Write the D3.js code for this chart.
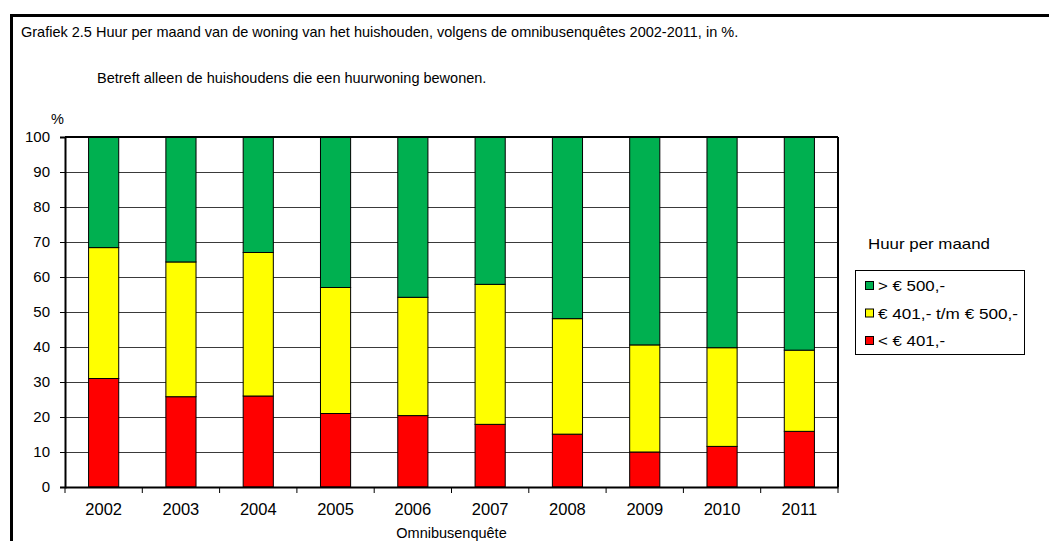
<!DOCTYPE html>
<html>
<head>
<meta charset="utf-8">
<script src="https://cdn.jsdelivr.net/npm/d3@7"></script>
<style>
  body { margin: 0; background: #fff; }
  svg text { font-family: "Liberation Sans", Arial, sans-serif; fill: #000; }
</style>
</head>
<body>
<svg id="chart" width="1049" height="541"></svg>
<script>
// data (percent per year)
const years = ['2002', '2003', '2004', '2005', '2006', '2007', '2008', '2009', '2010', '2011'];
const low = [31.0, 25.8, 26.0, 21.0, 20.4, 17.9, 15.1, 10.0, 11.6, 15.9];   // < € 401,-
const mid = [37.4, 38.5, 41.0, 36.0, 33.8, 40.0, 33.0, 30.6, 28.2, 23.2];   // € 401,- t/m € 500,-
const high = years.map((y, i) => +(100 - low[i] - mid[i]).toFixed(1));     // > € 500,-
const seriesKeys = ['low', 'mid', 'high'];
const seriesColors = { low: '#ff0000', mid: '#ffff00', high: '#00b050' };
const legendLabels = ['> € 500,-', '€ 401,- t/m € 500,-', '< € 401,-'];
const legendKeys = ['high', 'mid', 'low'];
const yTicks = [0, 10, 20, 30, 40, 50, 60, 70, 80, 90, 100];

const table = years.map((y, i) => ({ year: y, low: low[i], mid: mid[i], high: high[i] }));
const stacked = d3.stack().keys(seriesKeys)(table);

const svg = d3.select('#chart');
const margin = { left: 65, right: 838, top: 137, bottom: 487 };

// outer frame (only top and left edges visible)
svg.append('line').attr('x1', 10).attr('x2', 1049).attr('y1', 15.5).attr('y2', 15.5)
  .attr('stroke', '#000').attr('stroke-width', 3);
svg.append('line').attr('x1', 11.5).attr('x2', 11.5).attr('y1', 14).attr('y2', 541)
  .attr('stroke', '#000').attr('stroke-width', 3);

svg.append('text').attr('x', 21).attr('y', 37).attr('font-size', 14.5)
  .text('Grafiek 2.5 Huur per maand van de woning van het huishouden,  volgens de omnibusenquêtes 2002-2011, in %.');
svg.append('text').attr('x', 97).attr('y', 83).attr('font-size', 14.5)
  .text('Betreft alleen de huishoudens  die een huurwoning  bewonen.');

const x = d3.scaleBand().domain(years).range([margin.left, margin.right]).paddingInner(0.61).paddingOuter(0.305);
const y = d3.scaleLinear().domain([0, 100]).range([margin.bottom, margin.top]);

// gridlines
svg.append('g').selectAll('line').data(yTicks.slice(1)).join('line')
  .attr('x1', margin.left).attr('x2', margin.right)
  .attr('y1', d => Math.round(y(d)) + 0.5).attr('y2', d => Math.round(y(d)) + 0.5)
  .attr('stroke', '#3a3a3a').attr('stroke-width', 1);

// bars
svg.append('g').selectAll('g').data(stacked).join('g')
  .attr('fill', d => seriesColors[d.key])
  .selectAll('rect').data(d => d).join('rect')
  .attr('x', d => x(d.data.year))
  .attr('width', x.bandwidth())
  .attr('y', d => y(d[1]))
  .attr('height', d => y(d[0]) - y(d[1]))
  .attr('stroke', '#000').attr('stroke-width', 1);

// plot border right/top
svg.append('line').attr('x1', margin.right).attr('x2', margin.right).attr('y1', margin.top).attr('y2', margin.bottom)
  .attr('stroke', '#000').attr('stroke-width', 2);
svg.append('line').attr('x1', margin.left).attr('x2', margin.right).attr('y1', margin.top).attr('y2', margin.top)
  .attr('stroke', '#000').attr('stroke-width', 2);

// y axis
const yAxis = svg.append('g').attr('transform', `translate(${margin.left},0)`)
  .call(d3.axisLeft(y).tickValues(yTicks).tickSize(5).tickPadding(10));
yAxis.select('.domain').attr('stroke', '#000').attr('stroke-width', 2);
yAxis.selectAll('text').attr('font-size', 15);

// x axis with ticks on category boundaries
const xAxis = svg.append('g').attr('transform', `translate(0,${margin.bottom})`)
  .call(d3.axisBottom(x).tickSize(0).tickPadding(16));
xAxis.select('.domain').attr('stroke', '#000').attr('stroke-width', 2);
xAxis.selectAll('text').attr('font-size', 16.5);
const step = x.step();
svg.append('g').selectAll('line').data(d3.range(years.length + 1)).join('line')
  .attr('x1', i => margin.left + i * step).attr('x2', i => margin.left + i * step)
  .attr('y1', margin.bottom).attr('y2', margin.bottom + 6)
  .attr('stroke', '#000').attr('stroke-width', 1);

svg.append('text').attr('x', 51).attr('y', 124).attr('font-size', 14.5).text('%');
svg.append('text').attr('x', (margin.left + margin.right) / 2).attr('y', 538)
  .attr('text-anchor', 'middle').attr('font-size', 14.5).text('Omnibusenquête');

// legend
svg.append('text').attr('x', 868).attr('y', 249).attr('font-size', 15)
  .attr('textLength', 122).attr('lengthAdjust', 'spacingAndGlyphs').text('Huur per maand');
svg.append('rect').attr('x', 855.5).attr('y', 270.5).attr('width', 169).attr('height', 84)
  .attr('fill', '#fff').attr('stroke', '#000').attr('stroke-width', 1);
const legendWidths = [67, 140, 67];
const leg = svg.append('g').selectAll('g').data(legendKeys).join('g')
  .attr('transform', (d, i) => `translate(865,${291 + i * 27.5})`);
leg.append('rect').attr('x', 0.5).attr('y', -9.5).attr('width', 8).attr('height', 8)
  .attr('fill', d => seriesColors[d]).attr('stroke', '#000').attr('stroke-width', 1);
leg.append('text').attr('x', 13).attr('y', 0).attr('font-size', 15.5)
  .attr('textLength', (d, i) => legendWidths[i]).attr('lengthAdjust', 'spacingAndGlyphs')
  .text((d, i) => legendLabels[i]);
</script>
</body>
</html>
